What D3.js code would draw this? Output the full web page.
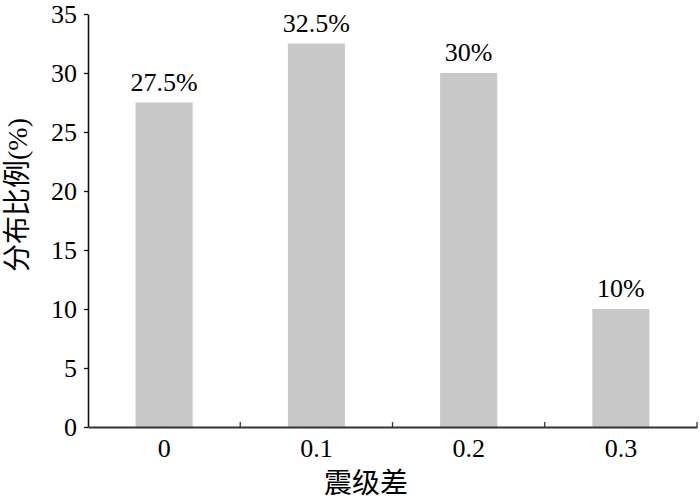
<!DOCTYPE html>
<meta charset="utf-8">
<title>震级差分布比例</title>
<style>
body { margin: 0; background: #fff; }
.tick text, .label { font-family: "Liberation Serif", "Times New Roman", serif; font-size: 26px; fill: #000; }
.title { font-family: "Liberation Serif", "Noto Sans CJK SC", serif; font-size: 28px; fill: #000; }
</style>
<svg width="700" height="501"></svg>
<script src="https://d3js.org/d3.v7.min.js"></script>
<script>

// data
var categories = ["0", "0.1", "0.2", "0.3"];
var values = [27.5, 32.5, 30, 10];
var valueLabels = ["27.5%", "32.5%", "30%", "10%"];
var yTicks = [0, 5, 10, 15, 20, 25, 30, 35];

var svg = d3.select("svg"),
    mLeft = 88, mRight = 697, mTop = 14, mBottom = 427;

var x = d3.scaleBand()
    .domain(categories)
    .range([mLeft, mRight])
    .paddingInner(0.625)
    .paddingOuter(0.3125);

var y = d3.scaleLinear()
    .domain([0, 35])
    .range([mBottom, mTop]);

// bars
svg.selectAll("rect.bar")
  .data(values)
  .enter().append("rect")
    .attr("class", "bar")
    .attr("x", function(d, i) { return x(categories[i]); })
    .attr("y", function(d) { return y(d); })
    .attr("width", x.bandwidth())
    .attr("height", function(d) { return y(0) - y(d); })
    .style("fill", "#c8c8c8");

// value labels
svg.selectAll("text.label")
  .data(values)
  .enter().append("text")
    .attr("class", "label")
    .attr("x", function(d, i) { return x(categories[i]) + x.bandwidth() / 2; })
    .attr("y", function(d) { return y(d) - 12; })
    .attr("text-anchor", "middle")
    .text(function(d, i) { return valueLabels[i]; });

// y axis
var yAxis = svg.append("g")
    .attr("transform", "translate(" + mLeft + ",0)")
    .call(d3.axisLeft(y).tickValues(yTicks).tickSize(4).tickPadding(7).tickSizeOuter(0));
yAxis.select(".domain").attr("stroke", "#111").attr("stroke-width", 1.6);
yAxis.selectAll(".tick line").attr("stroke", "#111").attr("stroke-width", 1.3);

// x axis: labels centred on bars, tick marks on band boundaries pointing inward
var xAxis = svg.append("g")
    .attr("transform", "translate(0," + mBottom + ")")
    .call(d3.axisBottom(x).tickSize(0).tickPadding(12));
xAxis.select(".domain").attr("stroke", "#333").attr("stroke-width", 2.2);

var step = x.step();
var bounds = categories.map(function(c) { return x(c) - x.paddingOuter() * step + step; });
svg.selectAll("line.xtick")
  .data(bounds)
  .enter().append("line")
    .attr("class", "xtick")
    .attr("x1", function(d) { return d; })
    .attr("x2", function(d) { return d; })
    .attr("y1", mBottom)
    .attr("y2", mBottom - 5)
    .attr("stroke", "#333")
    .attr("stroke-width", 1.3);

// axis titles
svg.append("text")
    .attr("class", "title")
    .attr("x", 366)
    .attr("y", 493)
    .attr("text-anchor", "middle")
    .text("震级差");

svg.append("text")
    .attr("class", "title")
    .attr("transform", "translate(27,195) rotate(-90)")
    .attr("text-anchor", "middle")
    .text("分布比例(%)");

</script>
